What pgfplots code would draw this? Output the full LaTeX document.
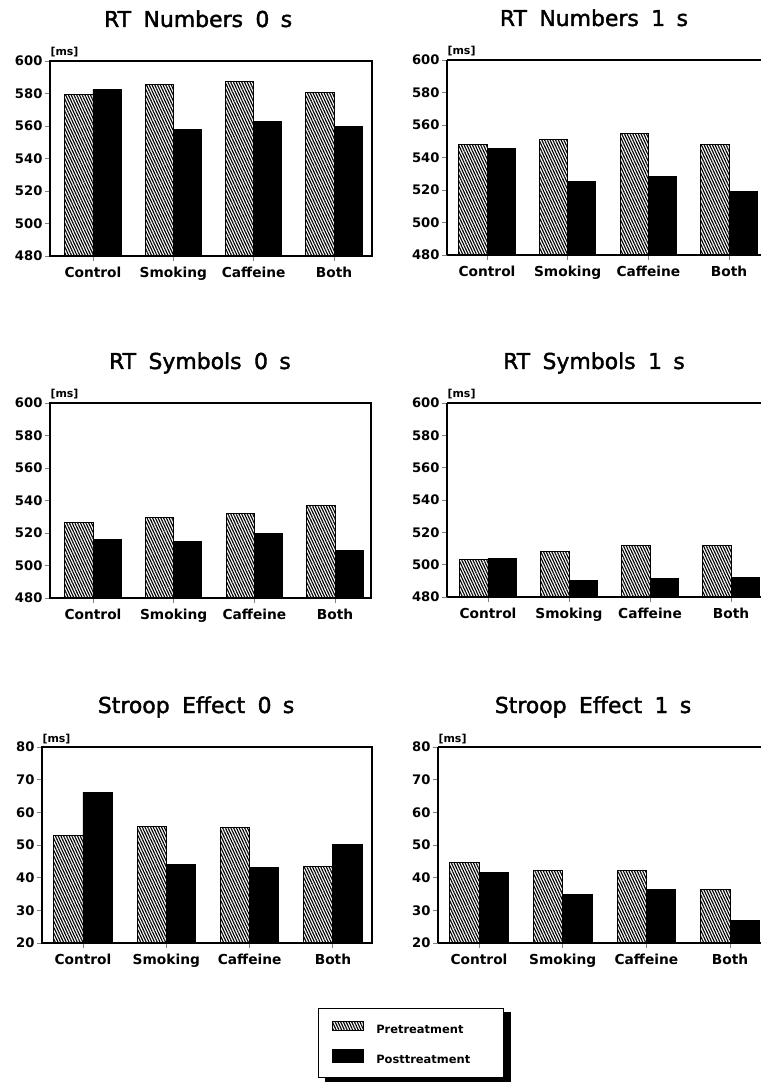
\documentclass[border=0pt]{standalone}
\usepackage{pgfplots}
\pgfplotsset{compat=1.18}
\usepackage{fontspec}
\setmainfont{DejaVu Sans}
\newfontfamily\titlefont{DejaVu Sans}[FakeBold=1.8]
\usetikzlibrary{patterns.meta,backgrounds}
\pgfplotsset{
  panel/.style={
    scale only axis, anchor=south west,
    line width=1.1bp,
    ybar,
    xtick={0,1,2,3}, xticklabels={Control,Smoking,Caffeine,Both},
    tick align=outside,
    major tick length=5bp,
    major tick style={line width=0.9bp},
    xtick pos=left, ytick pos=left,
    /pgf/number format/assume math mode=true,
    yticklabel style={font=\bfseries\fontsize{13.2}{13}\selectfont, inner sep=2bp},
    xticklabel style={font=\bfseries\fontsize{13.8}{14}\selectfont, yshift=-2bp},
    every axis title/.style={at={(axis description cs:0.467,1)}, anchor=base, yshift=34bp, font=\titlefont\fontsize{22}{22}\selectfont},
    extra description/.code={\node[anchor=south west, inner sep=0pt, font=\bfseries\fontsize{11}{11}\selectfont, yshift=3bp] at (rel axis cs:0,1) {[ms]};},
  },
  rtaxis/.style={ymin=480, ymax=600, ytick={480,500,...,600}},
  staxis/.style={ymin=20, ymax=80, ytick={20,30,...,80}},
  openright/.style={axis x line*=bottom, axis y line*=left,
    extra description/.append code={\draw[line width=1.1bp] (rel axis cs:0,1) -- (rel axis cs:1,1);}},
  pre/.style={bar width=0.35, bar shift=-0.175, draw=black, line width=0.9bp,
    pattern={Lines[angle=-65,distance=2.5bp,line width=1.15bp]},
    legend image code/.code={\draw[draw=black, line width=0.9bp, pattern={Lines[angle=-65,distance=2.5bp,line width=1.15bp]}] (0bp,0bp) rectangle (31bp,9bp);}},
  post/.style={bar width=0.35, bar shift=0.175, draw=black, fill=black, line width=0.9bp,
    legend image code/.code={\fill[black] (0bp,-2bp) rectangle (31bp,11bp);}},
}
\begin{document}
\begin{tikzpicture}
\useasboundingbox (0,0) rectangle (761bp,1084bp);
% RT Numbers 0 s
\begin{axis}[panel, rtaxis, at={(50bp,828bp)}, width=322bp, height=195bp,
  xmin=-0.535, xmax=3.473, title={RT\hspace{0.25em} Numbers\hspace{0.25em} 0\hspace{0.2em} s},
  title style={at={(axis description cs:0.46,1)}}]
\addplot[pre] coordinates {(0,579.5) (1,585.5) (2,587.5) (3,580.5)};
\addplot[post] coordinates {(0,582.5) (1,558) (2,562.5) (3,559.5)};
\end{axis}
% RT Numbers 1 s
\begin{axis}[panel, openright, rtaxis, at={(447bp,829bp)}, width=314bp, height=195bp,
  xmin=-0.496, xmax=3.397, title={RT\hspace{0.25em} Numbers\hspace{0.25em} 1\hspace{0.2em} s},
  title style={at={(axis description cs:0.468,1)}}]
\addplot[pre] coordinates {(0,548) (1,551) (2,554.5) (3,548)};
\addplot[post] coordinates {(0,545.5) (1,525) (2,528.5) (3,519)};
\end{axis}
% RT Symbols 0 s
\begin{axis}[panel, rtaxis, at={(50bp,486bp)}, width=321bp, height=195bp,
  xmin=-0.533, xmax=3.446, title={RT\hspace{0.25em} Symbols\hspace{0.25em} 0\hspace{0.2em} s},
  title style={at={(axis description cs:0.467,1)}}]
\addplot[pre] coordinates {(0,526.5) (1,529.8) (2,532.2) (3,537)};
\addplot[post] coordinates {(0,516) (1,514.8) (2,519.5) (3,509.3)};
\end{axis}
% RT Symbols 1 s
\begin{axis}[panel, openright, rtaxis, at={(447bp,487bp)}, width=314bp, height=194bp,
  xmin=-0.506, xmax=3.37, title={RT\hspace{0.25em} Symbols\hspace{0.25em} 1\hspace{0.2em} s},
  title style={at={(axis description cs:0.468,1)}}]
\addplot[pre] coordinates {(0,503.2) (1,508.4) (2,512) (3,512)};
\addplot[post] coordinates {(0,504) (1,490) (2,491.7) (3,492)};
\end{axis}
% Stroop Effect 0 s
\begin{axis}[panel, staxis, at={(42bp,141bp)}, width=330bp, height=196bp,
  xmin=-0.492, xmax=3.469, title={Stroop\hspace{0.25em} Effect\hspace{0.25em} 0\hspace{0.2em} s},
  title style={at={(axis description cs:0.467,1)}},
  legend cell align=left,
  legend style={name=leg, at={(axis description cs:0.836,-0.332)}, anchor=north west,
    draw=black, line width=1bp, fill=white,
    inner xsep=14bp, inner ysep=12bp, row sep=14bp, column sep=12bp,
    font=\bfseries\fontsize{11.5}{12}\selectfont, nodes={inner sep=0pt}}]
\addplot[pre] coordinates {(0,52.8) (1,55.6) (2,55.4) (3,43.4)};
\addlegendentry{Pretreatment\hspace*{19bp}}
\addplot[post] coordinates {(0,66.2) (1,44) (2,43) (3,50.3)};
\addlegendentry{Posttreatment\hspace*{19bp}}
\end{axis}
\begin{scope}[on background layer]
\fill[black] ([xshift=7bp,yshift=-4bp]leg.south west) rectangle ([xshift=7bp,yshift=-4bp]leg.north east);
\end{scope}
% Stroop Effect 1 s
\begin{axis}[panel, openright, staxis, at={(438bp,141bp)}, width=323bp, height=196bp,
  xmin=-0.49, xmax=3.37, title={Stroop\hspace{0.25em} Effect\hspace{0.25em} 1\hspace{0.2em} s},
  title style={at={(axis description cs:0.48,1)}}]
\addplot[pre] coordinates {(0,44.7) (1,42.3) (2,42.1) (3,36.3)};
\addplot[post] coordinates {(0,41.6) (1,34.9) (2,36.5) (3,26.9)};
\end{axis}
\end{tikzpicture}
\end{document}
